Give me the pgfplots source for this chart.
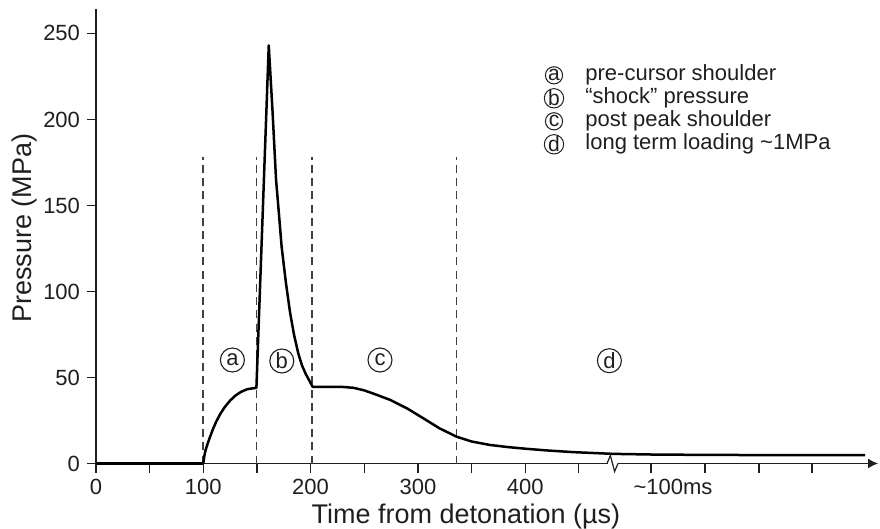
\documentclass[border=0pt]{standalone}
\usepackage{fontspec}
\setmainfont{Liberation Sans}
\usepackage{pgfplots}
\pgfplotsset{compat=1.18}
\usetikzlibrary{arrows.meta}
\definecolor{ink}{gray}{0.12}
\begin{document}
\begin{tikzpicture}
\useasboundingbox (-48bp,-32.75bp) rectangle (392bp,231.75bp);
\begin{axis}[
  scale only axis, width=391bp, height=227.25bp,
  xmin=0, xmax=728.8, ymin=0, ymax=264.2,
  axis x line=bottom, axis y line=left,
  x axis line style={-{Latex[length=5bp,width=5bp]}, line width=0.7bp, ink},
  y axis line style={-, line width=0.7bp, ink},
  xtick={0,50,100,150,200,250,300,350,400,450,517.2,567.6,617.9,667.3},
  xticklabels={0,,100,,200,,300,,400,,,,,},
  ytick={0,50,100,150,200,250},
  tick align=outside, major tick length=4.5bp,
  tick style={line width=0.6bp, ink},
  tick label style={font=\fontsize{11bp}{13bp}\selectfont, text=ink},
  /pgf/number format/assume math mode=true,
  extra x ticks={537.7}, extra x tick labels={\textasciitilde100ms},
  extra x tick style={major tick length=0pt, xticklabel style={yshift=-4.5bp}},
  xlabel={Time from detonation (µs)},
  ylabel={Pressure (MPa)},
  xlabel style={at={(axis description cs:0.473,-0.1309)}, anchor=base, font=\fontsize{13.5bp}{16bp}\selectfont, text=ink},
  ylabel style={at={(axis description cs:-0.0908,0.518)}, anchor=center, font=\fontsize{13.5bp}{16bp}\selectfont, text=ink},
  clip=false,
]
% dashed region separators
\addplot[ink!85, line width=0.9bp, dash pattern=on 4bp off 2.6bp] coordinates {(100,0) (100,178)};
\addplot[ink!85, line width=0.9bp, dash pattern=on 4bp off 2.6bp] coordinates {(149.5,0) (149.5,178)};
\addplot[ink!85, line width=0.9bp, dash pattern=on 4bp off 2.6bp] coordinates {(201,0) (201,178)};
\addplot[ink!85, line width=0.9bp, dash pattern=on 4bp off 2.6bp] coordinates {(336,0) (336,178)};
% pressure history
\addplot[black, line width=1.25bp] coordinates {(0,0) (100,0)};
\addplot[black, line width=1.25bp, line join=round] coordinates {
 (100,0) (101,4.5) (102,7.5) (104,11.5) (106,15) (109,20) (112,24.3) (116,29) (120,32.8)
 (125,36.6) (130,39.5) (135,41.6) (141,43.2) (149.5,44)
 (161,243) (164.5,205) (167.8,165) (170.5,145) (173,126) (177,105)
 (180.8,88) (184.5,75) (188.5,64) (192,57) (195.5,52) (199,48) (202,44.5)
 (215,44.6) (230,44.5) (240,44) (250,42.5) (260,40.3) (274,37) (290,32)
 (305,26.3) (320,20.5) (336,15.6) (350,12.8) (367,10.8) (383,9.6) (400,8.6)
 (420,7.6) (445,6.6) (482,5.6) (520,5.2) (570,5) (620,4.9) (716.7,4.8)};
\end{axis}
% axis break
\fill[white] (256bp,-0.8bp) rectangle (261bp,0.8bp);
\draw[ink, line width=0.6bp] (255.5bp,0) -- (257.2bp,4bp) -- (259.3bp,-4bp) -- (261bp,0);
% region markers
\begin{scope}[every node/.style={draw=ink, circle, line width=0.55bp, inner sep=0pt, minimum size=12bp, font=\fontsize{11bp}{13bp}\selectfont, text=ink}]
\node at (68.2bp,51.75bp) {a};
\node at (92.9bp,51.25bp) {b};
\node at (142bp,51.75bp) {c};
\node at (256.7bp,51.4bp) {d};
\end{scope}
% key
\begin{scope}[every node/.style={font=\fontsize{11bp}{13bp}\selectfont, text=ink},
  key/.style={draw=ink, circle, line width=0.5bp, inner sep=0pt, minimum size=8.6bp, font=\fontsize{10.5bp}{12bp}\selectfont}]
\node[key] at (229bp,194.1bp) {a};
\node[key] at (229bp,182.6bp) {b};
\node[key] at (229bp,171.1bp) {c};
\node[key] at (229bp,159.6bp) {d};
\node[anchor=base west, inner sep=0pt] at (244.5bp,191.25bp) {pre-cursor shoulder};
\node[anchor=base west, inner sep=0pt] at (244.5bp,179.75bp) {“shock” pressure};
\node[anchor=base west, inner sep=0pt] at (244.5bp,168.25bp) {post peak shoulder};
\node[anchor=base west, inner sep=0pt] at (244.5bp,156.75bp) {long term loading \textasciitilde1MPa};
\end{scope}
\end{tikzpicture}
\end{document}
